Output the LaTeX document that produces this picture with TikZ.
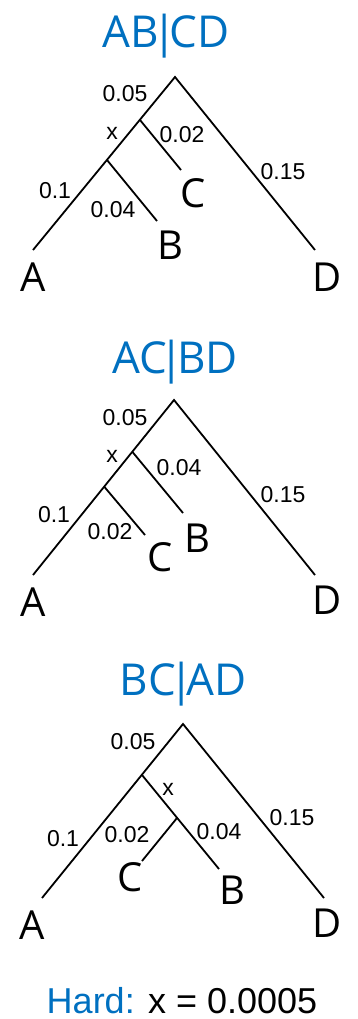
\documentclass[tikz,border=0pt]{standalone}
\usepackage{fontspec}
\setmainfont{Open Sans}
\newfontfamily\numfont{Liberation Sans}
\definecolor{splitblue}{RGB}{0,112,192}
% split label with a tight vertical bar between the two halves
\newcommand{\splitbar}[2]{#1\kern-7pt|\kern-7pt#2}
\begin{document}
\begin{tikzpicture}[x=1pt,y=-1pt,
  branch/.style={line width=1.8pt},
  leaf/.style={font=\fontsize{40}{40}\selectfont, inner sep=0pt},
  len/.style={font=\numfont\fontsize{23}{23}\selectfont, inner sep=0pt},
  split/.style={font=\fontsize{44}{44}\selectfont, text=splitblue, inner sep=0pt, anchor=base}]
\useasboundingbox (0,0) rectangle (357,1019);

% ---------- tree 1: AB|CD ----------
\node[split] (t1) at (166,48) {\splitbar{AB}{CD}};
\coordinate (r1) at (175,77);
\coordinate (a1) at (33,250);
\coordinate (d1) at (315,250);
\coordinate (n1) at (140,120);
\coordinate (m1) at (107,160);
\coordinate (c1) at (181,170);
\coordinate (b1) at (157,221);
\draw[branch] (a1) -- (r1) -- (d1);
\draw[branch] (n1) -- (c1);
\draw[branch] (m1) -- (b1);
\node[len] (l1a) at (125,94) {0.05};
\node[len] (l1b) at (112,133) {x};
\node[len] (l1c) at (182,135) {0.02};
\node[len] (l1d) at (283,172) {0.15};
\node[len] (l1e) at (55,191) {0.1};
\node[len] (l1f) at (113,210) {0.04};
\node[leaf] (A1) at (33,277) {A};
\node[leaf] (B1) at (170,245) {B};
\node[leaf] (C1) at (193,193) {C};
\node[leaf] (D1) at (327,277) {D};

% ---------- tree 2: AC|BD ----------
\node[split] (t2) at (175,373) {\splitbar{AC}{BD}};
\coordinate (r2) at (174,400);
\coordinate (a2) at (33,575);
\coordinate (d2) at (315,575);
\coordinate (n2) at (132.5,452);
\coordinate (m2) at (104.5,487);
\coordinate (b2) at (183,513);
\coordinate (c2) at (145,535);
\draw[branch] (a2) -- (r2) -- (d2);
\draw[branch] (n2) -- (b2);
\draw[branch] (m2) -- (c2);
\node[len] (l2a) at (125,418) {0.05};
\node[len] (l2b) at (112,456) {x};
\node[len] (l2c) at (179,468) {0.04};
\node[len] (l2d) at (283,495) {0.15};
\node[len] (l2e) at (54,515) {0.1};
\node[len] (l2f) at (110,532) {0.02};
\node[leaf] (A2) at (33,602) {A};
\node[leaf] (B2) at (197,538) {B};
\node[leaf] (C2) at (160,557) {C};
\node[leaf] (D2) at (327,600) {D};

% ---------- tree 3: BC|AD ----------
\node[split] (t3) at (183,695) {\splitbar{BC}{AD}};
\coordinate (r3) at (183,724);
\coordinate (a3) at (42,898);
\coordinate (d3) at (324,898);
\coordinate (n3) at (142,775);
\coordinate (j3) at (177,818);
\coordinate (b3) at (219,869);
\coordinate (c3) at (142,861);
\draw[branch] (a3) -- (r3) -- (d3);
\draw[branch] (n3) -- (b3);
\draw[branch] (j3) -- (c3);
\node[len] (l3a) at (133,742) {0.05};
\node[len] (l3b) at (168,789) {x};
\node[len] (l3c) at (292,818) {0.15};
\node[len] (l3d) at (63,839) {0.1};
\node[len] (l3e) at (127,835) {0.02};
\node[len] (l3f) at (219,832) {0.04};
\node[leaf] (A3) at (32,925) {A};
\node[leaf] (C3) at (130,877) {C};
\node[leaf] (B3) at (232,890) {B};
\node[leaf] (D3) at (327,923) {D};

% ---------- footer ----------
\node[anchor=base, inner sep=0pt, font=\numfont\fontsize{36}{36}\selectfont] (hard) at (182,1013)
  {\textcolor{splitblue}{Hard:} x = 0.0005};
\end{tikzpicture}
\end{document}
